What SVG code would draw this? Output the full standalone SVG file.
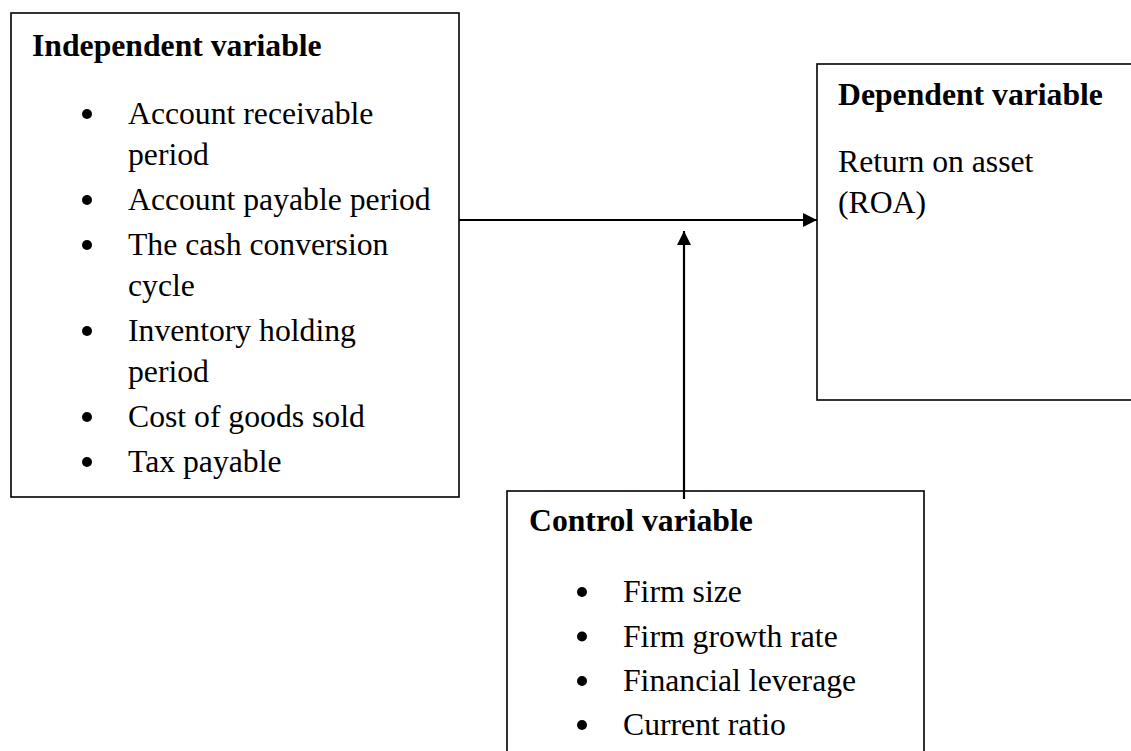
<svg xmlns="http://www.w3.org/2000/svg" width="1131" height="751" viewBox="0 0 1131 751">
<style>
.box{fill:#fff;stroke:#000;stroke-width:1.6}
.t{font-family:"Liberation Serif","Times New Roman",serif;font-size:31.7px;fill:#000}
.b{font-weight:bold}
.dot{fill:#000}
.conn{stroke:#000;stroke-width:2.2;fill:none}
</style>
<defs>
<marker id="ah" viewBox="0 0 10 10" refX="10" refY="5" markerWidth="15" markerHeight="14" markerUnits="userSpaceOnUse" orient="auto">
<path d="M0,0 L10,5 L0,10 Z" fill="#000"/>
</marker>
</defs>
<rect width="1131" height="751" fill="#fff"/>
<g id="independent">
<rect class="box" x="11" y="13" width="448" height="484"/>
<text class="t b" x="32" y="56">Independent variable</text>
<circle class="dot" cx="87" cy="114" r="5"/>
<text class="t" x="128" y="124">Account receivable</text>
<text class="t" x="128" y="165">period</text>
<circle class="dot" cx="87" cy="200" r="5"/>
<text class="t" x="128" y="210">Account payable period</text>
<circle class="dot" cx="87" cy="245" r="5"/>
<text class="t" x="128" y="255">The cash conversion</text>
<text class="t" x="128" y="296">cycle</text>
<circle class="dot" cx="87" cy="331" r="5"/>
<text class="t" x="128" y="341">Inventory holding</text>
<text class="t" x="128" y="382">period</text>
<circle class="dot" cx="87" cy="417" r="5"/>
<text class="t" x="128" y="427">Cost of goods sold</text>
<circle class="dot" cx="87" cy="462" r="5"/>
<text class="t" x="128" y="472">Tax payable</text>
</g>
<g id="dependent">
<rect class="box" x="817" y="64" width="330" height="336"/>
<text class="t b" x="838" y="105">Dependent variable</text>
<text class="t" x="838" y="172">Return on asset</text>
<text class="t" x="838" y="213">(ROA)</text>
</g>
<g id="control">
<rect class="box" x="507" y="491" width="417" height="280"/>
<text class="t b" x="529" y="531">Control variable</text>
<circle class="dot" cx="582" cy="592" r="5"/>
<text class="t" x="623" y="602">Firm size</text>
<circle class="dot" cx="582" cy="636.5" r="5"/>
<text class="t" x="623" y="646.5">Firm growth rate</text>
<circle class="dot" cx="582" cy="681" r="5"/>
<text class="t" x="623" y="691">Financial leverage</text>
<circle class="dot" cx="582" cy="725" r="5"/>
<text class="t" x="623" y="735">Current ratio</text>
</g>
<g id="connectors">
<line class="conn" x1="459" y1="220" x2="817" y2="220" marker-end="url(#ah)"/>
<line class="conn" x1="684" y1="499" x2="684" y2="231" marker-end="url(#ah)"/>
</g>
</svg>
